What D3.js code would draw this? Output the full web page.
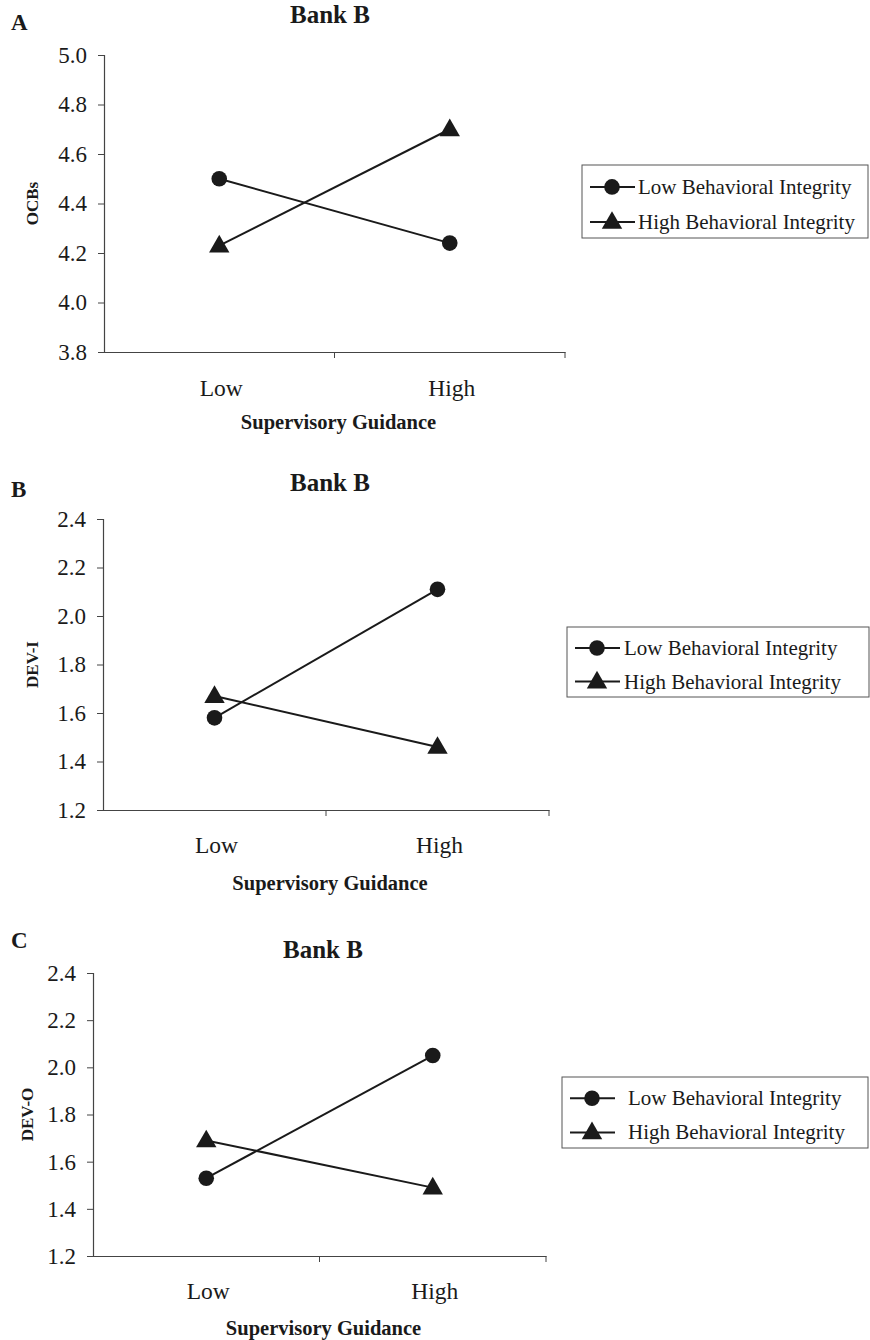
<!DOCTYPE html>
<html><head><meta charset="utf-8">
<script src="https://cdn.jsdelivr.net/npm/d3@7"></script>
<style>body{margin:0;background:#fff}svg{display:block}text{font-family:"Liberation Serif","Times New Roman",serif;fill:#1a1a1a}</style>
</head><body>
<svg id="c" width="870" height="1340"></svg>
<script>
const categories = ["Low", "High"];
const seriesNames = ["Low Behavioral Integrity", "High Behavioral Integrity"];
const ocbLowBI = [4.50, 4.24];
const ocbHighBI = [4.23, 4.70];
const devILowBI = [1.58, 2.11];
const devIHighBI = [1.67, 1.46];
const devOLowBI = [1.53, 2.05];
const devOHighBI = [1.69, 1.49];
const yTicksA = [3.8, 4.0, 4.2, 4.4, 4.6, 4.8, 5.0];
const yTicksBC = [1.2, 1.4, 1.6, 1.8, 2.0, 2.2, 2.4];
const panelLetters = ["A", "B", "C"];
const panelTitle = "Bank B";
const yTitles = ["OCBs", "DEV-I", "DEV-O"];
const xTitle = "Supervisory Guidance";

const svg = d3.select("#c");
const ink = "#1a1a1a";

const panels = [
  {letter: panelLetters[0], yTitle: yTitles[0], ticks: yTicksA, series: [ocbLowBI, ocbHighBI],
   L: 104, R: 565, T: 55, B: 352, letterY: 30, titleY: 23, titleX: 330, yTitleX: 38, catDy: 44, xtDy: 77,
   leg: {x: 582, y: 165, w: 286, h: 73, lineX: 590, textX: 638}},
  {letter: panelLetters[1], yTitle: yTitles[1], ticks: yTicksBC, series: [devILowBI, devIHighBI],
   L: 103, R: 549, T: 519, B: 810, letterY: 497, titleY: 491, titleX: 330, yTitleX: 38, catDy: 43, xtDy: 80,
   leg: {x: 567, y: 627, w: 302, h: 70, lineX: 575, textX: 624}},
  {letter: panelLetters[2], yTitle: yTitles[2], ticks: yTicksBC, series: [devOLowBI, devOHighBI],
   L: 93, R: 546, T: 973, B: 1256, letterY: 948, titleY: 958, titleX: 323, yTitleX: 33, catDy: 43, xtDy: 79,
   leg: {x: 562, y: 1077, w: 306, h: 71, lineX: 570, textX: 628}}
];

const triSym = d3.symbol().type(d3.symbolTriangle).size(180);

function marker(g, kind, x, y) {
  if (kind === 0) {
    g.append("circle").attr("cx", x).attr("cy", y).attr("r", 7.8).attr("fill", ink);
  } else {
    g.append("path").attr("d", triSym()).attr("transform", `translate(${x},${y + 1})`).attr("fill", ink);
  }
}

panels.forEach(p => {
  const g = svg.append("g");
  const y = d3.scaleLinear().domain([p.ticks[0], p.ticks[p.ticks.length - 1]]).range([p.B, p.T]);
  const x = d3.scaleBand().domain(categories).range([p.L, p.R]).padding(0);

  // panel letter and title
  g.append("text").attr("x", 11).attr("y", p.letterY).attr("font-size", 23).attr("font-weight", "bold").text(p.letter);
  g.append("text").attr("x", p.titleX).attr("y", p.titleY).attr("text-anchor", "middle").attr("font-size", 25).attr("font-weight", "bold").text(panelTitle);

  // y axis
  const ya = g.append("g").attr("transform", `translate(${p.L},0)`)
    .call(d3.axisLeft(y).tickValues(p.ticks).tickSize(6).tickPadding(11).tickFormat(d3.format(".1f")));
  ya.select(".domain").attr("stroke", "#444").attr("stroke-width", 1.2);
  ya.selectAll(".tick line").attr("stroke", "#444");
  ya.selectAll(".tick text").attr("font-size", 23).attr("font-family", "Liberation Serif").attr("fill", ink);

  // x axis
  const xa = g.append("g").attr("transform", `translate(0,${p.B})`)
    .call(d3.axisBottom(x).tickSize(0).tickFormat(""));
  xa.select(".domain").attr("stroke", "#444").attr("stroke-width", 1.2);
  xa.selectAll(".tick").remove();
  categories.forEach(c => {
    g.append("line").attr("x1", x(c) + x.bandwidth()).attr("x2", x(c) + x.bandwidth())
      .attr("y1", p.B).attr("y2", p.B + 6).attr("stroke", "#444");
    g.append("text").attr("x", x(c) + x.bandwidth() / 2 + 2).attr("y", p.B + p.catDy)
      .attr("text-anchor", "middle").attr("font-size", 23.5).text(c);
  });
  g.append("text").attr("x", (p.L + p.R) / 2 + 4).attr("y", p.B + p.xtDy).attr("text-anchor", "middle")
    .attr("font-size", 20.5).attr("font-weight", "bold").text(xTitle);

  // y title
  g.append("text").attr("transform", `translate(${p.yTitleX},${(p.T + p.B) / 2}) rotate(-90)`)
    .attr("text-anchor", "middle").attr("font-size", 17).attr("font-weight", "bold").text(p.yTitle);

  // lines and markers
  const line = d3.line().x((d, i) => x(categories[i]) + x.bandwidth() / 2).y(d => y(d));
  p.series.forEach((s, k) => {
    g.append("path").datum(s).attr("d", line).attr("fill", "none").attr("stroke", ink).attr("stroke-width", 2);
    s.forEach((v, i) => marker(g, k, x(categories[i]) + x.bandwidth() / 2, y(v)));
  });

  // legend
  const L = p.leg;
  g.append("rect").attr("x", L.x).attr("y", L.y).attr("width", L.w).attr("height", L.h)
    .attr("fill", "none").attr("stroke", "#555").attr("stroke-width", 1);
  seriesNames.forEach((n, k) => {
    const cy = L.y + L.h * (k === 0 ? 0.3 : 0.78);
    g.append("line").attr("x1", L.lineX).attr("x2", L.lineX + 45).attr("y1", cy).attr("y2", cy)
      .attr("stroke", ink).attr("stroke-width", 2);
    marker(g, k, L.lineX + 22, cy);
    g.append("text").attr("x", L.textX).attr("y", cy + 7).attr("font-size", 21).text(n);
  });
});
</script>
</body></html>
